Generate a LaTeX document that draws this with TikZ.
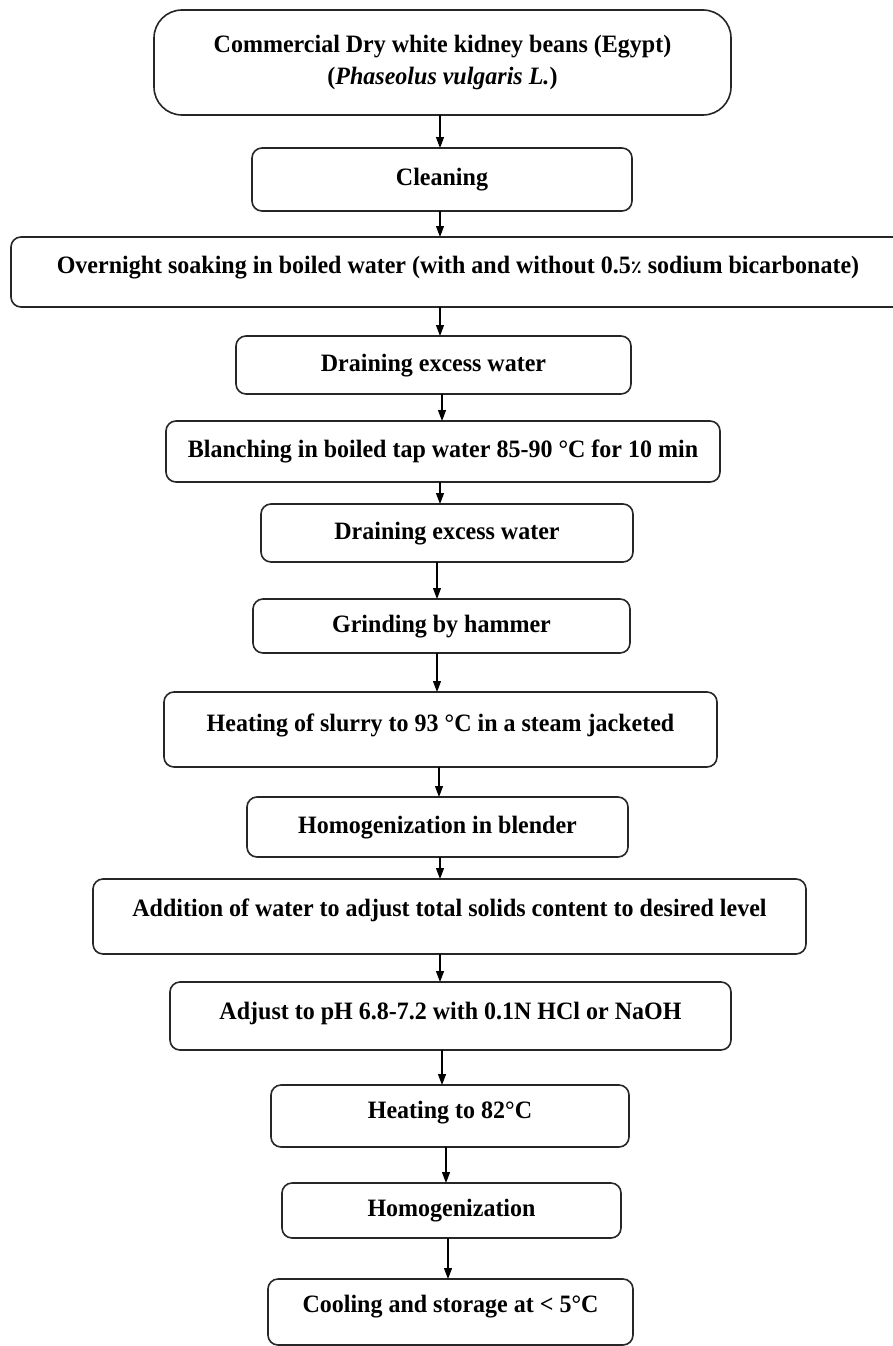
\documentclass[tikz,border=0pt]{standalone}
\usepackage{fontspec}
\setmainfont{Liberation Serif}[FakeStretch=0.96]
\newfontfamily\pctfont{DejaVu Sans}
\usetikzlibrary{arrows.meta}
\tikzset{
  stepbox/.style={draw=black!85, line width=1.6pt, rounded corners=10pt,
    inner sep=0pt, outer sep=0pt, font=\bfseries\fontsize{25}{32}\selectfont,
    text height=17pt, text depth=5pt},
  arr/.style={line width=1.1pt, -{Triangle[length=11pt,width=8pt]}}
}
\newcommand{\bx}[6]{% name, left, right, top, bottom, text
  \node[stepbox, minimum width=#3pt-#2pt, minimum height=#5pt-#4pt] (#1) at ({(#2+#3)/2},{(#4+#5)/2}) {#6};}
\begin{document}
\begin{tikzpicture}[x=1pt,y=-1pt]
\useasboundingbox (0,0) rectangle (893,1346);
% top box
\node[stepbox, rounded corners=28pt, align=center, text height=, text depth=,
      minimum width=577pt, minimum height=105pt] (b1) at (442.5,62.5)
  {Commercial Dry white kidney beans (Egypt)\\(\textit{Phaseolus vulgaris L.})};
\bx{b2}{252}{632}{148}{211}{Cleaning}
\node[stepbox, minimum width=894pt, minimum height=70pt, text depth=15pt] (b3) at (458,272)
  {Overnight soaking in boiled water (with and without 0.5{\pctfont\fontsize{18}{20}\selectfont ٪} sodium bicarbonate)};
\bx{b4}{236}{631}{336}{394}{Draining excess water}
\bx{b5}{166}{720}{421}{482}{Blanching in boiled tap water 85-90 °C for 10 min}
\bx{b6}{261}{633}{504}{562}{Draining excess water}
\bx{b7}{253}{630}{599}{653}{Grinding by hammer}
\node[stepbox, minimum width=553pt, minimum height=75pt, text depth=14pt] (b8) at (440.5,729.5)
  {Heating of slurry to 93 °C in a steam jacketed};
\bx{b9}{247}{628}{797}{857}{Homogenization in blender}
\node[stepbox, minimum width=713pt, minimum height=75pt, text depth=17pt] (b10) at (449.5,916.5)
  {Addition of water to adjust total solids content to desired level};
\node[stepbox, minimum width=561pt, minimum height=68pt, text depth=11pt] (b11) at (450.5,1016)
  {Adjust to pH 6.8-7.2 with 0.1N HCl or NaOH};
\node[stepbox, minimum width=358pt, minimum height=62pt, text depth=13pt] (b12) at (450,1116)
  {Heating to 82°C};
\bx{b13}{282}{621}{1183}{1238}{Homogenization}
\node[stepbox, minimum width=365pt, minimum height=66pt, text depth=17pt] (b14) at (450.5,1312)
  {Cooling and storage at < 5°C};
% arrows
\draw[arr] (b1.south -| 440,0) -- (b2.north -| 440,0);
\draw[arr] (b2.south -| 440,0) -- (b3.north -| 440,0);
\draw[arr] (b3.south -| 440,0) -- (b4.north -| 440,0);
\draw[arr] (b4.south -| 442,0) -- (b5.north -| 442,0);
\draw[arr] (b5.south -| 440,0) -- (b6.north -| 440,0);
\draw[arr] (b6.south -| 437,0) -- (b7.north -| 437,0);
\draw[arr] (b7.south -| 437,0) -- (b8.north -| 437,0);
\draw[arr] (b8.south -| 439,0) -- (b9.north -| 439,0);
\draw[arr] (b9.south -| 440,0) -- (b10.north -| 440,0);
\draw[arr] (b10.south -| 440,0) -- (b11.north -| 440,0);
\draw[arr] (b11.south -| 442,0) -- (b12.north -| 442,0);
\draw[arr] (b12.south -| 446,0) -- (b13.north -| 446,0);
\draw[arr] (b13.south -| 448,0) -- (b14.north -| 448,0);
\end{tikzpicture}
\end{document}
